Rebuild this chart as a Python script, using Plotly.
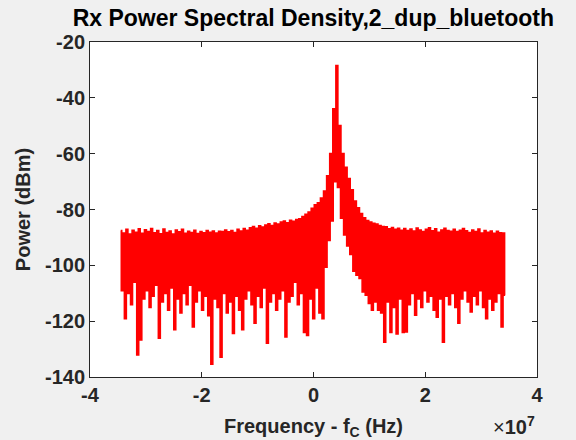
import numpy as np
import plotly.graph_objects as go

# Frequency span of the PSD bins (Hz, relative to carrier)
f_start = -3.45e7
f_stop = 3.43e7

# Power spectral density values (dBm)
power_dbm = [
    -87.6, -109, -88.5, -119, -87.2, -110, -88.9, -114, -87.5, -106,
    -88.2, -132, -87.0, -126.7, -88.6, -112, -87.3, -109, -88.0, -115,
    -86.9, -111, -88.4, -107, -87.6, -126, -88.8, -113, -87.1, -110,
    -88.3, -116, -87.8, -108, -88.9, -123, -87.4, -112, -88.1, -117,
    -87.2, -110, -88.6, -114, -87.9, -107, -88.3, -122, -87.5, -113,
    -88.7, -109, -88.0, -116, -88.4, -111, -87.6, -118, -88.2, -135.3,
    -87.8, -112, -88.5, -115, -87.9, -132.8, -88.0, -110, -87.4, -117,
    -88.1, -113, -87.6, -124.3, -88.3, -111, -87.2, -116, -87.8, -123,
    -86.9, -112, -87.5, -109, -86.6, -114, -86.2, -120.7, -86.8, -111,
    -85.9, -115, -86.4, -108, -85.6, -127.8, -85.2, -113, -85.8, -110,
    -84.9, -116, -85.3, -112, -84.6, -109, -84.2, -125.6, -84.8, -113,
    -83.9, -111, -84.3, -106, -83.7, -114, -83.4, -110, -82.6, -124,
    -81.8, -125, -81.0, -112, -79.6, -119, -78.4, -108, -77.7, -117,
    -76.0, -119, -73.5, -100.6, -68.0, -91, -60.0, -84, -44.0, -70,
    -28.5, -72, -50.0, -83, -60.0, -89, -65.0, -93, -69.0, -96,
    -73.0, -102, -77.0, -103.5, -79.5, -104.6, -81.5, -109.5, -83.0, -110.6,
    -84.0, -113.6, -84.6, -116, -85.0, -113, -85.3, -116, -85.8, -117,
    -86.2, -127.5, -86.3, -113, -87.0, -124, -86.5, -115, -87.2, -124.5,
    -86.8, -112, -87.5, -124, -86.9, -123.8, -87.6, -114, -87.1, -110,
    -87.8, -117.8, -86.7, -112, -87.4, -115, -88.0, -109, -87.2, -113,
    -86.6, -111, -87.7, -116, -87.0, -118.5, -88.2, -112, -87.4, -127.5,
    -86.8, -111, -87.6, -114, -87.9, -110, -87.2, -115, -88.0, -120.7,
    -87.5, -112, -86.9, -109, -87.7, -113, -88.3, -116.6, -87.4, -111,
    -88.0, -114, -87.1, -109, -88.5, -115, -87.6, -119, -88.2, -112,
    -87.8, -116, -88.6, -113, -87.9, -110, -88.4, -122, -88.5, -110.6,
]

freq_hz = np.linspace(f_start, f_stop, len(power_dbm))

x_tickvals = [-4e7, -2e7, 0, 2e7, 4e7]
x_ticktext = ["-4", "-2", "0", "2", "4"]
y_tickvals = [-140, -120, -100, -80, -60, -40, -20]
y_ticktext = ["-140", "-120", "-100", "-80", "-60", "-40", "-20"]

title_text = "Rx Power Spectral Density,2_dup_bluetooth"
x_label = "Frequency - f<sub>C</sub> (Hz)"
y_label = "Power (dBm)"

FONT = "Liberation Sans, Arial, sans-serif"
AX = "#262626"

fig = go.Figure()
fig.add_trace(go.Scatter(
    x=freq_hz, y=power_dbm, mode="lines",
    line=dict(color="#ff0000", width=2, shape="hvh"),
    showlegend=False, hoverinfo="skip",
))

axis_common = dict(
    showgrid=False, zeroline=False, showline=True, linecolor=AX, linewidth=1,
    mirror="ticks", ticks="inside", ticklen=5, tickwidth=1, tickcolor=AX,
    tickfont=dict(family=FONT, size=20, color=AX, weight="bold"),
    automargin=False,
)

fig.update_xaxes(
    range=[-4e7, 4e7], tickvals=x_tickvals, ticktext=x_ticktext,
    title=dict(text=x_label, font=dict(family=FONT, size=20, color=AX, weight="bold"), standoff=16),
    **axis_common,
)
fig.update_yaxes(
    range=[-140, -20], tickvals=y_tickvals, ticktext=y_ticktext,
    title=dict(text=y_label, font=dict(family=FONT, size=20, color=AX, weight="bold"), standoff=8),
    **axis_common,
)

fig.update_layout(
    width=576, height=440,
    margin=dict(l=90, r=39, t=42, b=63, autoexpand=False),
    paper_bgcolor="#f0f0f0", plot_bgcolor="#ffffff",
    title=dict(text=title_text, x=0.544, xanchor="center", y=0.96, yanchor="middle",
               font=dict(family=FONT, size=23, color="#000000", weight="bold")),
    annotations=[dict(
        text="\u00d7<b>10</b><sup><b>7</b></sup>", xref="paper", yref="paper", x=1.0, y=-0.146,
        xanchor="right", yanchor="middle", showarrow=False,
        font=dict(family=FONT, size=20, color=AX),
    )],
)

fig.write_html("out.html")
